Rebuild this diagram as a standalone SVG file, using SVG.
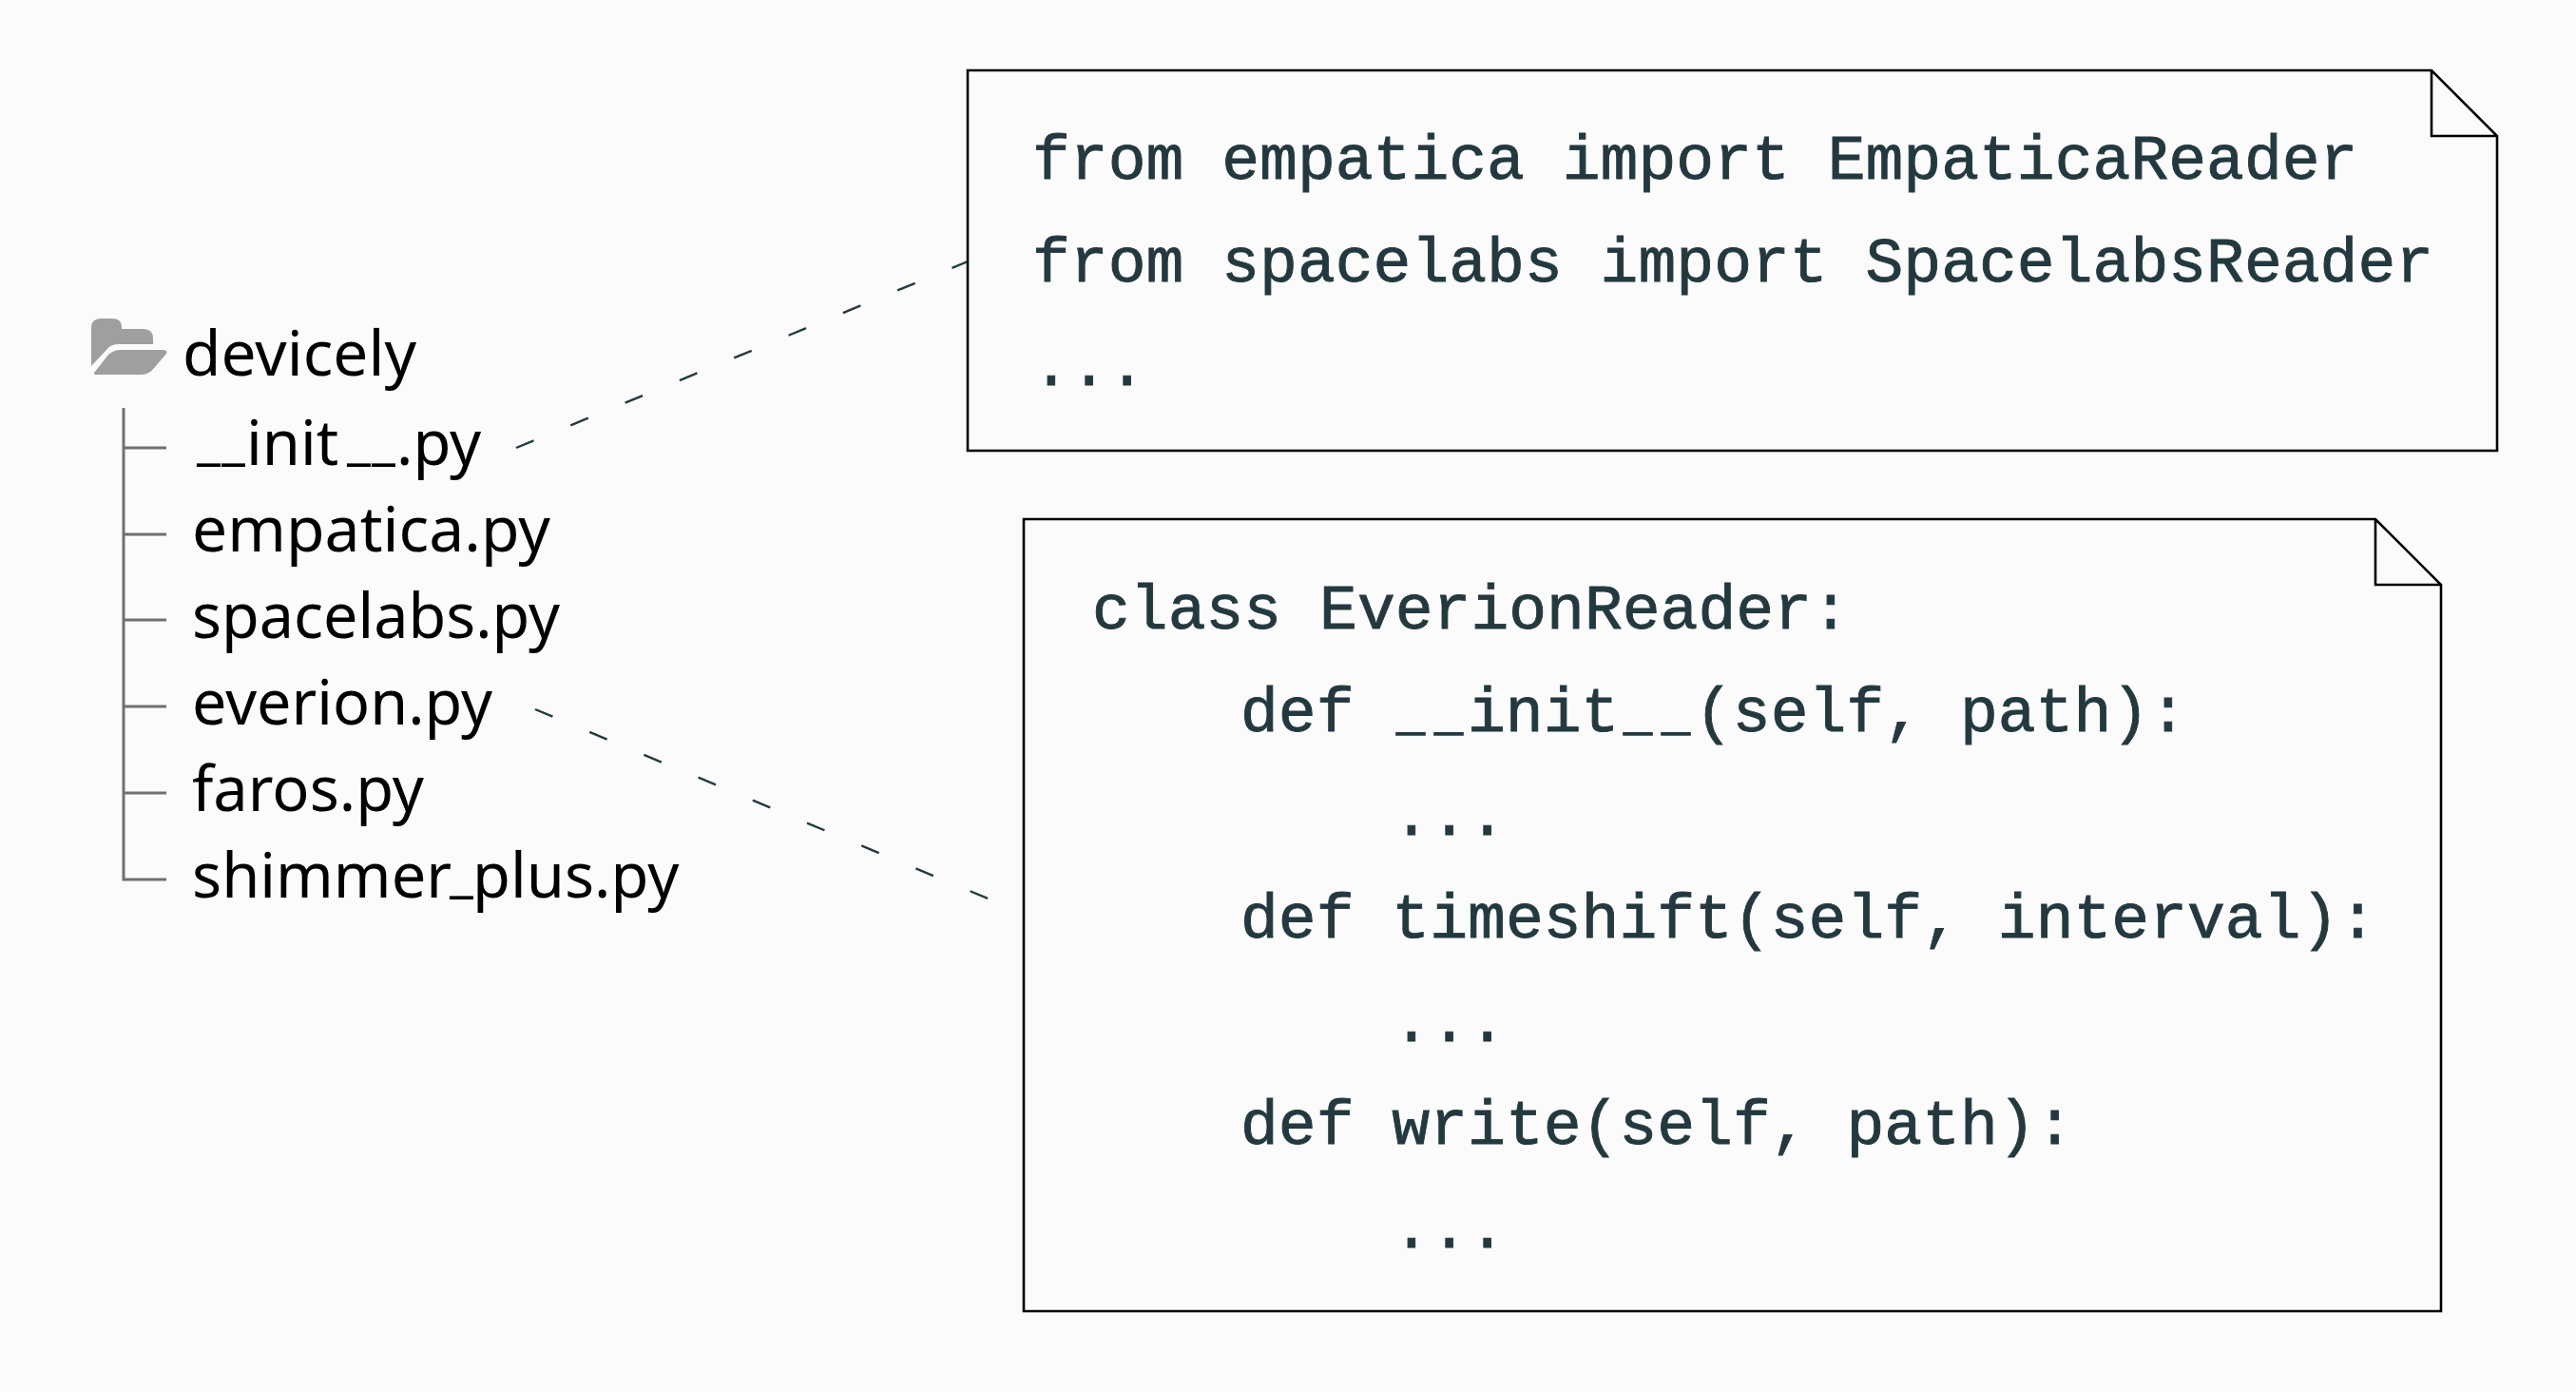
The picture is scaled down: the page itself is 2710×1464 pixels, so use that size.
<svg xmlns="http://www.w3.org/2000/svg" width="2710" height="1464" viewBox="0 0 2710 1464">
<style>
.bg{fill:#fbfbfb}
.note{fill:none;stroke:#000;stroke-width:2.6;stroke-linejoin:miter}
.code{font-family:"Liberation Mono",monospace;font-size:66.4px;fill:#23393f;stroke:#23393f;stroke-width:.9}
.code .us{font-size:50px;stroke-width:1.4}
.file{font-family:"Noto Sans",sans-serif;font-size:65px;fill:#000}
.file .us{font-size:56px}
.tree{fill:none;stroke:#707070;stroke-width:3}
.dash{fill:none;stroke:#23393f;stroke-width:2.4;stroke-dasharray:20 42}
.icon{fill:#9f9f9f}
</style>
<rect class="bg" width="2710" height="1464"/>
<g id="tree">
<g id="folder">
<path class="icon" d="M96 385V345Q96 335 106 335H118Q128 335 128 344V346H151Q161 346 161 356V362H124Q116 362 112 368Z"/>
<path class="icon" d="M99 392L114 373Q120 368 127 368H171Q177 368 175 372L163 386Q157 394 149 394H102Q98 394 99 392Z"/>
<text class="file" x="192" y="395" textLength="246" lengthAdjust="spacingAndGlyphs">devicely</text>
</g>
<path class="tree" d="M130 429V925H175M130 471H175M130 562H175M130 652H175M130 743H175M130 834H175"/>
<g id="file-init"><text class="file" y="489"><tspan class="us" x="207 233" dy="-7">__</tspan><tspan x="259" dy="7">init</tspan><tspan class="us" x="365 391" dy="-7">__</tspan><tspan x="417" dy="7">.py</tspan></text></g>
<g id="file-empatica"><text class="file" x="202" y="580" textLength="377" lengthAdjust="spacingAndGlyphs">empatica.py</text></g>
<g id="file-spacelabs"><text class="file" x="202" y="671" textLength="387" lengthAdjust="spacingAndGlyphs">spacelabs.py</text></g>
<g id="file-everion"><text class="file" x="202" y="762" textLength="316" lengthAdjust="spacingAndGlyphs">everion.py</text></g>
<g id="file-faros"><text class="file" x="202" y="853" textLength="244" lengthAdjust="spacingAndGlyphs">faros.py</text></g>
<g id="file-shimmer"><text class="file" y="944"><tspan x="202">shimmer</tspan><tspan class="us" x="473" dy="-7">_</tspan><tspan x="497" dy="7">plus.py</tspan></text></g>
</g>
<g id="connectors">
<path class="dash" d="M543 471L1018 275"/>
<path class="dash" d="M563 746L1044 947"/>
</g>
<g id="note-init">
<path class="note" d="M1018 74H2558L2627 143V474H1018ZM2558 74V143H2627"/>
<text class="code" x="1086" y="188">from empatica import EmpaticaReader</text>
<text class="code" x="1086" y="296">from spacelabs import SpacelabsReader</text>
<text class="code" x="1086" y="405">...</text>
</g>
<g id="note-everion">
<path class="note" d="M1077 546H2499L2568 615V1379H1077ZM2499 546V615H2568"/>
<text class="code" x="1149" y="661">class EverionReader:</text>
<text class="code" y="769"><tspan x="1305">def </tspan><tspan class="us" x="1469 1509" dy="-1">__</tspan><tspan x="1544" dy="1">init</tspan><tspan class="us" x="1708 1748" dy="-1">__</tspan><tspan x="1783" dy="1">(self, path):</tspan></text>
<text class="code" x="1465" y="878">...</text>
<text class="code" x="1305" y="986">def timeshift(self, interval):</text>
<text class="code" x="1465" y="1095">...</text>
<text class="code" x="1305" y="1203">def write(self, path):</text>
<text class="code" x="1465" y="1312">...</text>
</g>
</svg>
